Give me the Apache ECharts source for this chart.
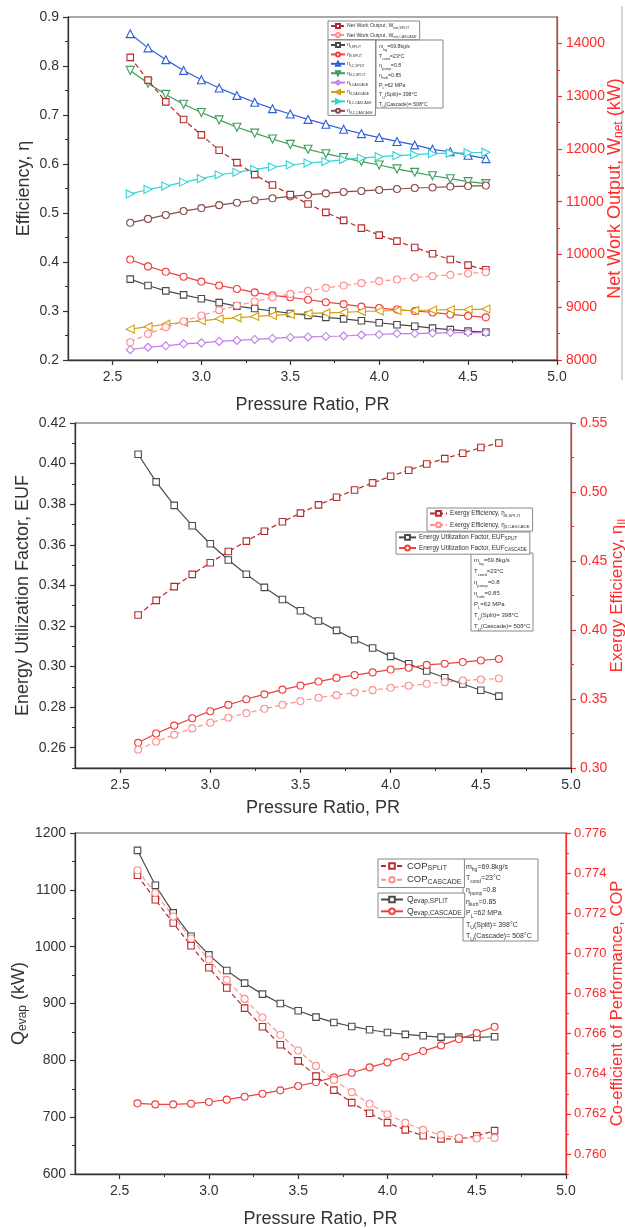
<!DOCTYPE html>
<html><head><meta charset="utf-8">
<script src="https://cdn.jsdelivr.net/npm/echarts@6/dist/echarts.min.js"></script>
<style>html,body{margin:0;padding:0;background:#fff}#c{width:625px;height:1228px}</style>
</head><body><div id="c"></div>
<script>
// ---------- data ----------
const PR = [2.6,2.7,2.8,2.9,3.0,3.1,3.2,3.3,3.4,3.5,3.6,3.7,3.8,3.9,4.0,4.1,4.2,4.3,4.4,4.5,4.6];

// Panel 1 (left axis: efficiency, right axis: net work kW)
const etaGraySplit   = [0.365,0.352,0.341,0.333,0.325,0.317,0.310,0.305,0.300,0.295,0.291,0.287,0.284,0.280,0.276,0.272,0.269,0.265,0.262,0.259,0.257];
const etaRedSplit    = [0.405,0.391,0.380,0.370,0.360,0.352,0.345,0.338,0.332,0.328,0.323,0.318,0.314,0.309,0.306,0.303,0.300,0.297,0.293,0.290,0.287];
const etaBlueSplit   = [0.866,0.837,0.813,0.791,0.772,0.755,0.740,0.726,0.713,0.702,0.691,0.681,0.671,0.662,0.654,0.646,0.639,0.630,0.625,0.618,0.611];
const etaGreenSplit  = [0.791,0.765,0.742,0.722,0.705,0.690,0.675,0.663,0.651,0.640,0.630,0.621,0.613,0.605,0.598,0.590,0.583,0.576,0.570,0.564,0.560];
const etaPurpleCasc  = [0.221,0.226,0.229,0.233,0.235,0.238,0.240,0.242,0.244,0.246,0.247,0.248,0.249,0.251,0.252,0.254,0.254,0.255,0.256,0.256,0.256];
const etaOrangeCasc  = [0.263,0.268,0.273,0.277,0.280,0.284,0.286,0.289,0.291,0.293,0.295,0.296,0.297,0.299,0.300,0.301,0.301,0.302,0.303,0.303,0.304];
const etaCyanCasc    = [0.539,0.548,0.555,0.563,0.570,0.578,0.583,0.589,0.594,0.598,0.602,0.605,0.609,0.612,0.615,0.617,0.619,0.621,0.622,0.623,0.624];
const etaBrownCasc   = [0.480,0.488,0.496,0.504,0.510,0.516,0.521,0.526,0.530,0.534,0.537,0.540,0.543,0.545,0.547,0.549,0.551,0.552,0.554,0.555,0.556];
const wnetSplit      = [13734,13304,12892,12557,12266,11975,11741,11513,11316,11133,10956,10797,10646,10500,10367,10253,10133,10013,9905,9797,9709];
const wnetCascade    = [8335,8494,8620,8734,8842,8943,9032,9108,9190,9253,9310,9367,9411,9456,9494,9525,9563,9589,9614,9639,9665];

// Panel 2 (left: EUF, right: exergy efficiency)
const eufSplit   = [0.4046,0.3910,0.3794,0.3694,0.3605,0.3525,0.3455,0.3390,0.3330,0.3275,0.3224,0.3178,0.3132,0.3091,0.3050,0.3014,0.2978,0.2945,0.2914,0.2883,0.2854];
const eufCascade = [0.2624,0.2670,0.2709,0.2745,0.2780,0.2811,0.2839,0.2863,0.2886,0.2906,0.2926,0.2944,0.2958,0.2971,0.2985,0.2994,0.3008,0.3014,0.3022,0.3030,0.3037];
const exSplit    = [0.4109,0.4215,0.4314,0.4403,0.4487,0.4569,0.4644,0.4716,0.4784,0.4847,0.4907,0.4962,0.5015,0.5066,0.5114,0.5158,0.5203,0.5242,0.5281,0.5322,0.5355];
const exCascade  = [0.3132,0.3190,0.3241,0.3287,0.3328,0.3364,0.3398,0.3429,0.3458,0.3485,0.3509,0.3528,0.3547,0.3564,0.3581,0.3596,0.3610,0.3622,0.3634,0.3641,0.3649];

// Panel 3 (left: Q_evap kW, right: COP)
const qSplit     = [1169.5,1108,1059.4,1018.4,985.6,958,935.8,916.5,900,887.2,876,866.7,859.6,853.8,849,845.6,843.2,840.9,840.9,840.3,841.5];
const qCascade   = [724.3,722.5,722.5,723.7,726.7,730.8,736,741.3,747.2,754.8,761.8,770,778.2,787.6,796.4,806.3,816.3,826.3,837.4,847.9,859];
const copSplit   = [0.77389,0.77267,0.77151,0.77038,0.76928,0.76827,0.76727,0.76634,0.76544,0.76464,0.76388,0.76318,0.76256,0.76203,0.76156,0.76120,0.76091,0.76075,0.76075,0.76090,0.76116];
const copCascade = [0.77414,0.77301,0.77184,0.77074,0.76968,0.76868,0.76773,0.76680,0.76594,0.76516,0.76439,0.76369,0.76308,0.76250,0.76198,0.76155,0.76120,0.76095,0.76080,0.76077,0.76080];

// tick labels
const xTicks       = [2.5,3.0,3.5,4.0,4.5,5.0];
const xMinorTicks  = [2.75,3.25,3.75,4.25,4.75];
const p1RightTicks = [8000,9000,10000,11000,12000,13000,14000];
const p1RightMinor = [8500,9500,10500,11500,12500,13500];
const p2LeftTicks  = [0.26,0.28,0.30,0.32,0.34,0.36,0.38,0.40,0.42];
const p2LeftMinor  = [0.25,0.27,0.29,0.31,0.33,0.35,0.37,0.39,0.41];
const p3RightTicks = [0.760,0.762,0.764,0.766,0.768,0.770,0.772,0.774,0.776];
const p3RightMinor = [0.759,0.761,0.763,0.765,0.767,0.769,0.771,0.773,0.775];

// text
const paramLines = [
  '{n|m}{s|hg}{n|=69.8kg/s}',
  '{n|T}{s|cond}{n|=23°C}',
  '{n|η}{s|pump}{n|=0.8}',
  '{n|η}{s|turb}{n|=0.85}',
  '{n|P}{s|L}{n|=62 MPa}',
  '{n|T}{s|U}{n|(Split)= 398°C}',
  '{n|T}{s|U}{n|(Cascade)= 508°C}'
];
const legendText = {
  'WnetSplit':   '{n|Net Work Output, W}{s|net,SPLIT}',
  'WnetCascade': '{n|Net Work Output, W}{s|net,CASCADE}',
  'etaGray':   '{n|η}{s|I,SPLIT}',
  'etaRed':    '{n|η}{s|II,SPLIT}',
  'etaBlue':   '{n|η}{s|I,C,SPLIT}',
  'etaGreen':  '{n|η}{s|II,C,SPLIT}',
  'etaPurple': '{n|η}{s|I,CASCADE}',
  'etaOrange': '{n|η}{s|II,CASCADE}',
  'etaCyan':   '{n|η}{s|I,C,CASCADE}',
  'etaBrown':  '{n|η}{s|II,C,CASCADE}',
  'ExSplit':   '{n|Exergy Efficiency, η}{s|II,SPLIT}',
  'ExCascade': '{n|Exergy Efficiency, η}{s|II,CASCADE}',
  'EufSplit':  '{n|Energy Utilization Factor, EUF}{s|SPLIT}',
  'EufCascade':'{n|Energy Utilization Factor, EUF}{s|CASCADE}',
  'CopSplit':  '{n|COP}{s|SPLIT}',
  'CopCascade':'{n|COP}{s|CASCADE}',
  'QSplit':    '{n|Q}{s|evap,SPLIT}',
  'QCascade':  '{n|Q}{s|evap,CASCADE}'
};

// ---------- styling ----------
const FONT = 'Liberation Sans, Arial, sans-serif';
const AX = '#333';
const RED = '#ff2a2a';
const C = {
  gray:'#4a4a4a', red:'#f04040', blue:'#2e5fd6', green:'#3c9e5a', purple:'#c07ee6',
  orange:'#d4a010', cyan:'#30d4d4', brown:'#8a4b4b', dred:'#b52a2a', pink:'#ff8f8f'
};

function pts(arr){ return PR.map((x,i)=>[x, arr[i]]); }
function line(name, arr, color, symbol, rot, xi, yi, dashed, size){
  return {
    name, type:'line', xAxisIndex:xi, yAxisIndex:yi, data:pts(arr),
    symbol, symbolSize:size||7, symbolRotate:rot||0, showSymbol:true,
    color,
    lineStyle:{color, width:1.2, type: dashed ? [5,3] : 'solid'},
    itemStyle:{color:'#fff', borderColor:color, borderWidth:1.1},
    z:3, silent:true, animation:false
  };
}

function xMain(g, nameGap){
  return {
    gridIndex:g, type:'value', min:2.25, max:5.0, position:'bottom',
    axisLine:{show:true, onZero:false, lineStyle:{color:AX, width:1.3}},
    axisTick:{show:true, customValues:xTicks, length:5, lineStyle:{color:AX, width:1.2}},
    axisLabel:{customValues:xTicks, formatter:v=>v.toFixed(1), fontSize:14, color:AX, fontFamily:FONT, margin:10},
    splitLine:{show:false},
    name:'Pressure Ratio, PR', nameLocation:'middle', nameGap:nameGap, nameMoveOverlap:false,
    nameTextStyle:{fontSize:18, color:AX, fontFamily:FONT}
  };
}
function xMinor(g){
  return {
    gridIndex:g, type:'value', min:2.25, max:5.0, position:'bottom',
    axisLine:{show:false, onZero:false},
    axisTick:{show:true, customValues:xMinorTicks, length:3, lineStyle:{color:AX, width:1}},
    axisLabel:{show:false}, splitLine:{show:false}
  };
}
function yMinor(g, pos, min, max, vals, color){
  return {
    gridIndex:g, type:'value', position:pos, min, max,
    axisLine:{show:false}, axisLabel:{show:false}, splitLine:{show:false},
    axisTick:{show:true, customValues:vals, length:3, lineStyle:{color}}
  };
}
function subRich(big, small, color){
  return {
    n:{fontSize:big, color, fontFamily:FONT, lineHeight:big+2},
    s:{fontSize:small, color, fontFamily:FONT, lineHeight:small-1, verticalAlign:'bottom'}
  };
}
const gridCommon = {show:true, borderColor:'#555', borderWidth:1, backgroundColor:'transparent', containLabel:false, outerBoundsMode:'none'};

const option = {
  backgroundColor:'#fff',
  animation:false,
  grid:[
    Object.assign({left:68, top:17, width:489, height:343}, gridCommon),
    Object.assign({left:75, top:423, width:496, height:345}, gridCommon),
    Object.assign({left:75, top:833, width:491, height:341}, gridCommon)
  ],
  xAxis:[ xMain(0,36), xMinor(0), xMain(1,31), xMinor(1), xMain(2,36), xMinor(2) ],
  yAxis:[
    { // 0: panel1 left
      gridIndex:0, type:'value', position:'left', min:0.2, max:0.9, interval:0.1,
      axisLine:{show:true, lineStyle:{color:AX, width:1.3}},
      axisTick:{show:true, length:5, lineStyle:{color:AX, width:1.2}},
      minorTick:{show:true, splitNumber:2, length:3, lineStyle:{color:AX}},
      axisLabel:{formatter:v=>v.toFixed(1), fontSize:14, color:AX, fontFamily:FONT, margin:9},
      splitLine:{show:false},
      name:'Efficiency, η', nameLocation:'middle', nameGap:35, nameMoveOverlap:false,
      nameTextStyle:{fontSize:18, color:AX, fontFamily:FONT}
    },
    { // 1: panel1 right
      gridIndex:0, type:'value', position:'right', min:8000, max:14500,
      axisLine:{show:true, lineStyle:{color:RED, width:1.3}},
      axisTick:{show:true, customValues:p1RightTicks, length:5, lineStyle:{color:RED, width:1.2}},
      axisLabel:{customValues:p1RightTicks, formatter:v=>String(v), fontSize:14, color:RED, fontFamily:FONT, margin:9},
      splitLine:{show:false},
      name:'{n|Net Work Output, W}{s|net}{n| (kW)}', nameLocation:'middle', nameGap:48, nameMoveOverlap:false,
      nameTextStyle:{fontSize:18, color:RED, fontFamily:FONT, rich:subRich(18,12,RED)}
    },
    { // 2: panel2 left
      gridIndex:1, type:'value', position:'left', min:0.25, max:0.42,
      axisLine:{show:true, lineStyle:{color:AX, width:1.3}},
      axisTick:{show:true, customValues:p2LeftTicks, length:5, lineStyle:{color:AX, width:1.2}},
      axisLabel:{customValues:p2LeftTicks, formatter:v=>v.toFixed(2), fontSize:14, color:AX, fontFamily:FONT, margin:9},
      splitLine:{show:false},
      name:'Energy Utilization Factor, EUF', nameLocation:'middle', nameGap:43, nameMoveOverlap:false,
      nameTextStyle:{fontSize:18, color:AX, fontFamily:FONT}
    },
    { // 3: panel2 right
      gridIndex:1, type:'value', position:'right', min:0.30, max:0.55, interval:0.05,
      axisLine:{show:true, lineStyle:{color:RED, width:1.3}},
      axisTick:{show:true, length:5, lineStyle:{color:RED, width:1.2}},
      minorTick:{show:true, splitNumber:2, length:3, lineStyle:{color:RED}},
      axisLabel:{formatter:v=>v.toFixed(2), fontSize:14, color:RED, fontFamily:FONT, margin:9},
      splitLine:{show:false},
      name:'{n|Exergy Efficiency, η}{s|II}', nameLocation:'middle', nameGap:37, nameMoveOverlap:false,
      nameTextStyle:{fontSize:17, color:RED, fontFamily:FONT, rich:subRich(17,11,RED)}
    },
    { // 4: panel3 left
      gridIndex:2, type:'value', position:'left', min:600, max:1200, interval:100,
      axisLine:{show:true, lineStyle:{color:AX, width:1.3}},
      axisTick:{show:true, length:5, lineStyle:{color:AX, width:1.2}},
      minorTick:{show:true, splitNumber:2, length:3, lineStyle:{color:AX}},
      axisLabel:{formatter:v=>String(v), fontSize:14, color:AX, fontFamily:FONT, margin:9},
      splitLine:{show:false},
      name:'{n|Q}{s|evap}{n| (kW)}', nameLocation:'middle', nameGap:46, nameMoveOverlap:false,
      nameTextStyle:{fontSize:18, color:AX, fontFamily:FONT, rich:subRich(18,12,AX)}
    },
    { // 5: panel3 right
      gridIndex:2, type:'value', position:'right', min:0.759, max:0.776,
      axisLine:{show:true, lineStyle:{color:RED, width:1.3}},
      axisTick:{show:true, customValues:p3RightTicks, length:5, lineStyle:{color:RED, width:1.2}},
      axisLabel:{customValues:p3RightTicks, formatter:v=>v.toFixed(3), fontSize:13, color:RED, fontFamily:FONT, margin:8},
      splitLine:{show:false},
      name:'Co-efficient of Performance, COP', nameLocation:'middle', nameGap:43, nameMoveOverlap:false,
      nameTextStyle:{fontSize:16.5, color:RED, fontFamily:FONT}
    },
    yMinor(1, 'left', 0.25, 0.42, p2LeftMinor, AX),        // 6
    yMinor(2, 'right', 0.759, 0.776, p3RightMinor, RED),   // 7
    yMinor(0, 'right', 8000, 14500, p1RightMinor, RED)     // 8
  ],
  legend:[
    { // panel1 W_net
      left:328, top:21, orient:'vertical', itemWidth:14, itemHeight:5, itemGap:2.5,
      padding:[2,3,1,2], borderColor:'#888', borderWidth:1, backgroundColor:'#fff',
      selectedMode:false, data:['WnetSplit','WnetCascade'],
      formatter:n=>legendText[n], textStyle:{rich:subRich(5.2,3.6,'#333'), padding:[0,0,0,-3]}
    },
    { // panel1 efficiencies
      left:328, top:40, orient:'vertical', itemWidth:14, itemHeight:5, itemGap:2.8,
      padding:[2,3,1,2], borderColor:'#888', borderWidth:1, backgroundColor:'#fff',
      selectedMode:false,
      data:['etaGray','etaRed','etaBlue','etaGreen','etaPurple','etaOrange','etaCyan','etaBrown'],
      formatter:n=>legendText[n], textStyle:{rich:subRich(5.2,3.4,'#333'), padding:[0,0,0,-3]}
    },
    { // panel2 exergy
      left:427, top:508, orient:'vertical', itemWidth:17, itemHeight:6, itemGap:4,
      padding:[2,3,2,2], borderColor:'#888', borderWidth:1, backgroundColor:'#fff',
      selectedMode:false, data:['ExSplit','ExCascade'],
      formatter:n=>legendText[n], textStyle:{rich:subRich(6.3,4.4,'#333'), padding:[0,0,0,-2]}
    },
    { // panel2 EUF
      left:396, top:532, orient:'vertical', itemWidth:17, itemHeight:6, itemGap:3,
      padding:[2,3,2,2], borderColor:'#888', borderWidth:1, backgroundColor:'#fff',
      selectedMode:false, data:['EufSplit','EufCascade'],
      formatter:n=>legendText[n], textStyle:{rich:subRich(6.4,4.6,'#333'), padding:[0,0,0,-2]}
    },
    { // panel3 COP
      left:378, top:859, orient:'vertical', itemWidth:22, itemHeight:7, itemGap:3,
      padding:[2,3,2,2], borderColor:'#888', borderWidth:1, backgroundColor:'#fff',
      selectedMode:false, data:['CopSplit','CopCascade'],
      formatter:n=>legendText[n], textStyle:{rich:subRich(9.5,7,'#333'), padding:[0,0,0,-1]}
    },
    { // panel3 Q
      left:378, top:893, orient:'vertical', itemWidth:22, itemHeight:7, itemGap:2,
      padding:[2,3,1,2], borderColor:'#888', borderWidth:1, backgroundColor:'#fff',
      selectedMode:false, data:['QSplit','QCascade'],
      formatter:n=>legendText[n], textStyle:{rich:subRich(8.6,6.6,'#333'), padding:[0,0,0,-1]}
    }
  ],
  graphic:[
    paramBox(376, 40, 67, 68, 5.2, 3.6, 9.6),
    paramBox(471, 553, 62, 78, 6, 4.2, 11),
    paramBox(463, 859, 75, 82, 7, 5, 11.6),
    {type:'line', shape:{x1:622, y1:6, x2:622, y2:380}, style:{stroke:'#aaa', lineWidth:1}}
  ],
  series:[
    line('etaGray',   etaGraySplit,  C.gray,  'rect', 0, 0, 0, false, 6.5),
    line('etaRed',    etaRedSplit,   C.red,   'circle', 0, 0, 0, false, 7),
    line('etaBlue',   etaBlueSplit,  C.blue,  'triangle', 0, 0, 0, false, 8),
    line('etaGreen',  etaGreenSplit, C.green, 'triangle', 180, 0, 0, false, 8),
    line('etaPurple', etaPurpleCasc, C.purple,'diamond', 0, 0, 0, false, 8),
    line('etaOrange', etaOrangeCasc, C.orange,'triangle', 90, 0, 0, false, 8),
    line('etaCyan',   etaCyanCasc,   C.cyan,  'triangle', -90, 0, 0, false, 8),
    line('etaBrown',  etaBrownCasc,  C.brown, 'circle', 0, 0, 0, false, 7),
    line('WnetSplit', wnetSplit,     C.dred,  'rect', 0, 0, 1, true, 6.5),
    line('WnetCascade', wnetCascade, C.pink,  'circle', 0, 0, 1, true, 7),

    line('EufSplit',  eufSplit,   C.gray, 'rect', 0, 2, 2, false, 6.5),
    line('EufCascade',eufCascade, C.red,  'circle', 0, 2, 2, false, 7),
    line('ExSplit',   exSplit,    C.dred, 'rect', 0, 2, 3, true, 6.5),
    line('ExCascade', exCascade,  C.pink, 'circle', 0, 2, 3, true, 7),

    line('QSplit',    qSplit,     C.gray, 'rect', 0, 4, 4, false, 6.5),
    line('QCascade',  qCascade,   C.red,  'circle', 0, 4, 4, false, 7),
    line('CopSplit',  copSplit,   C.dred, 'rect', 0, 4, 5, true, 6.5),
    line('CopCascade',copCascade, C.pink, 'circle', 0, 4, 5, true, 7)
  ]
};

function paramBox(x, y, w, h, fs, sfs, lh){
  return {
    type:'group', z:100, children:[
      {type:'rect', shape:{x, y, width:w, height:h}, style:{fill:'#fff', stroke:'#888', lineWidth:1}},
      {type:'text', x:x+3, y:y+2, style:{
        text:paramLines.join('\n'), fill:'#333', fontFamily:FONT,
        rich:{
          n:{fontSize:fs, fill:'#333', lineHeight:lh, fontFamily:FONT},
          s:{fontSize:sfs, fill:'#333', lineHeight:sfs+1, verticalAlign:'bottom', fontFamily:FONT}
        }
      }}
    ]
  };
}

const chart = echarts.init(document.getElementById('c'), null, {renderer:'canvas'});
chart.setOption(option);
</script></body></html>
